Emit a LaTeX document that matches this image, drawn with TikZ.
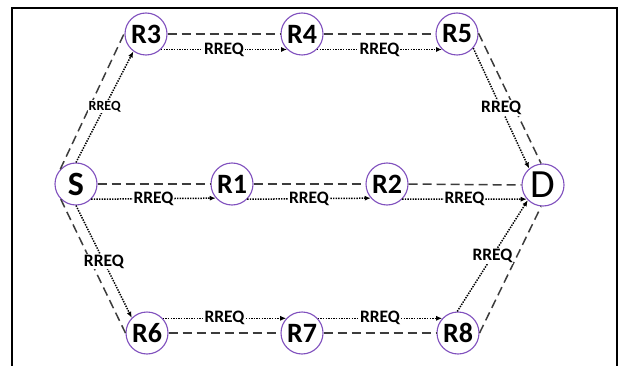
\documentclass[tikz,border=0pt]{standalone}
\usepackage{fontspec}
\setmainfont{Carlito}
\usetikzlibrary{arrows.meta}
\definecolor{ring}{RGB}{128,80,190}
\definecolor{dashgray}{RGB}{60,60,60}
\begin{document}
\begin{tikzpicture}[x=1pt,y=-1pt,
  router/.style={circle,draw=ring,line width=1.1pt,fill=white,minimum size=42pt,inner sep=0pt,font=\fontsize{28}{28}\selectfont\bfseries},
  link/.style={draw=dashgray,line width=1.5pt,dash pattern=on 9pt off 5pt},
  req/.style={line width=1.5pt,dash pattern=on 1.4pt off 1.2pt,-{Latex[length=6pt,width=5pt]}},
  lbl/.style={fill=white,inner sep=1pt,font=\fontsize{17.5}{17.5}\selectfont\bfseries},
  lbls/.style={fill=white,inner sep=1pt,font=\fontsize{14}{14}\selectfont\bfseries}]
\useasboundingbox (0,0) rectangle (620,366);
\fill[white] (0,0) rectangle (620,366);
\draw[line width=2.5pt] (12,372) -- (12,8) -- (617,8) -- (617,372);

\node[router,font=\fontsize{34}{34}\selectfont\bfseries] (S) at (76,184) {S};
\node[router] (R1) at (232,184) {R1};
\node[router] (R2) at (387,184) {R2};
\node[router,font=\fontsize{40}{40}\selectfont] (D) at (543,185) {D};
\node[router] (R3) at (146,34) {R3};
\node[router] (R4) at (302,34) {R4};
\node[router] (R5) at (457,34) {R5};
\node[router] (R6) at (147,333) {R6};
\node[router] (R7) at (302,333) {R7};
\node[router] (R8) at (458,333) {R8};

% dashed links
\draw[link] (S.137) -- (R3.177);
\draw[link] (R3.east) -- (R4.west);
\draw[link] (R4.east) -- (R5.west);
\draw[link] (R5.2) -- (D.95);
\draw[link] (S.east) -- (R1.west);
\draw[link] (R1.east) -- (R2.west);
\draw[link] (R2.east) -- (D.west);
\draw[link] (S.225) -- (R6.west);
\draw[link] (R6.east) -- (R7.west);
\draw[link] (R7.east) -- (R8.west);
\draw[link] (R8.east) -- (D.265);

% RREQ flooding
\draw[req] (S.90) -- node[lbls]{RREQ} (R3.234);
\draw[req] (R3.-46) -- node[lbl]{RREQ} (R4.226);
\draw[req] (R4.-46) -- node[lbl]{RREQ} (R5.226);
\draw[req] (R5.-41) -- node[lbl]{RREQ} (D.130);
\draw[req] (S.-45) -- node[lbl]{RREQ} (R1.221);
\draw[req] (R1.-45) -- node[lbl]{RREQ} (R2.221);
\draw[req] (R2.-45) -- node[lbl]{RREQ} (D.221);
\draw[req] (S.270) -- node[lbl]{RREQ} (R6.135);
\draw[req] (R6.43) -- node[lbl]{RREQ} (R7.137);
\draw[req] (R7.43) -- node[lbl]{RREQ} (R8.137);
\draw[req] (R8.92) -- node[lbl]{RREQ} (D.225);
\end{tikzpicture}
\end{document}
